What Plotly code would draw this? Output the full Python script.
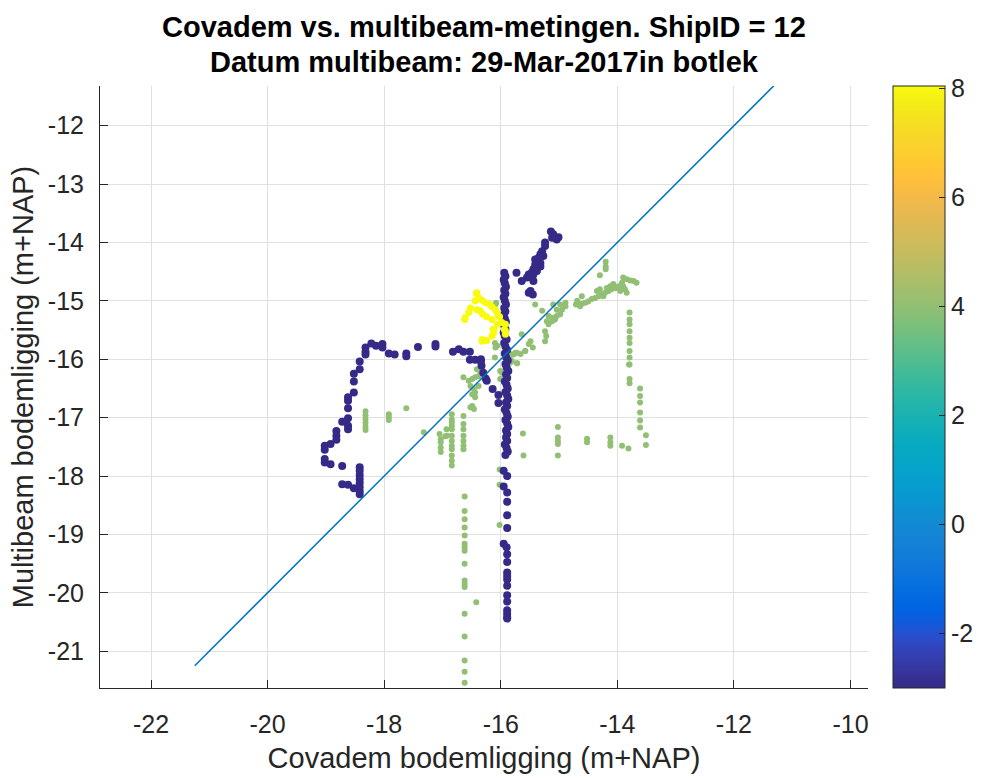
import plotly.graph_objects as go

# ---------------- data ----------------
# Points with colour value -3 (dark blue)
blue_x = [-18.32, -18.32, -18.32, -18.22, -18.14, -18.03, -18.03, -17.92, -17.82, -17.62, -17.62, -17.42, -17.12, -17.12,
          -18.42, -18.42, -18.52, -18.52, -18.52, -18.62, -18.62, -18.62, -18.62, -18.72, -18.62, -18.62, -18.82, -18.82,
          -18.82, -18.92, -19.02, -19.02, -19.02, -19.02, -18.92, -18.72,
          -18.42, -18.42, -18.42, -18.42, -18.42, -18.42, -18.42, -18.42, -18.72, -18.62, -18.52,
          -16.82, -16.72, -16.64, -16.53, -16.53, -16.44, -16.34, -16.34, -16.33, -16.30, -16.26, -16.24, -16.14, -16.04, -16.04,
          -15.94, -15.92, -15.95, -15.93, -15.91, -15.94, -15.92, -15.95, -15.93, -15.91, -15.94, -15.92, -15.95, -15.93,
          -15.91, -15.94, -15.92, -15.95, -15.93, -15.90, -15.94, -15.92, -15.89, -15.93, -15.91, -15.88, -15.92, -15.90,
          -15.87, -15.91, -15.89, -15.93, -15.90, -15.88, -15.92, -15.89, -15.87, -15.91, -15.89, -15.93, -15.90, -15.88,
          -15.92, -15.89, -15.87, -15.91, -15.89,
          -15.95, -15.89, -15.95, -15.89, -15.89, -15.89, -15.89, -15.95, -15.90, -15.89, -15.89, -15.89, -15.89, -15.89,
          -15.89, -15.89, -15.89, -15.89, -15.89, -15.89, -15.89,
          -15.14, -15.10, -15.01, -15.04, -15.12, -15.24, -15.24, -15.29, -15.32, -15.27, -15.35, -15.41, -15.32, -15.32,
          -15.41, -15.44, -15.47, -15.52, -15.44, -15.38, -15.55, -15.47, -15.44, -15.64, -15.73, -15.49, -15.52, -15.45,
          -15.91, -15.89, -15.93, -15.90, -15.88, -15.92]
blue_y = [-15.80, -15.87, -15.92, -15.73, -15.77, -15.74, -15.80, -15.90, -15.92, -15.90, -15.95, -15.79, -15.74, -15.78,
          -16.04, -16.17, -16.25, -16.38, -16.57, -16.65, -16.71, -16.84, -17.01, -17.07, -17.14, -17.20, -17.23, -17.31,
          -17.38, -17.45, -17.48, -17.55, -17.71, -17.77, -17.80, -17.83,
          -17.85, -17.91, -17.98, -18.05, -18.12, -18.19, -18.26, -18.31, -18.14, -18.15, -18.21,
          -15.87, -15.83, -15.87, -15.87, -16.01, -16.01, -16.00, -16.04, -16.11, -16.23, -16.33, -16.37, -16.51, -16.61, -16.75,
          -14.52, -14.58, -14.64, -14.70, -14.76, -14.82, -14.88, -14.94, -15.00, -15.06, -15.12, -15.18, -15.24, -15.30,
          -15.36, -15.42, -15.48, -15.54, -15.60, -15.66, -15.72, -15.78, -15.84, -15.90, -15.96, -16.02, -16.08, -16.14,
          -16.20, -16.26, -16.32, -16.38, -16.44, -16.50, -16.56, -16.62, -16.68, -16.74, -16.80, -16.86, -16.92, -16.98,
          -17.04, -17.10, -17.16, -17.22, -17.28,
          -17.91, -18.00, -18.18, -18.28, -18.44, -18.67, -18.89, -19.16, -19.22, -19.34, -19.47, -19.65, -19.71, -19.77,
          -19.88, -20.04, -20.15, -20.30, -20.36, -20.42, -20.44,
          -13.81, -13.86, -13.91, -13.95, -13.92, -14.00, -14.06, -14.15, -14.20, -14.23, -14.26, -14.29, -14.35, -14.41,
          -14.38, -14.46, -14.52, -14.55, -14.55, -14.49, -14.60, -14.60, -14.66, -14.66, -14.52, -14.83, -14.86, -14.89,
          -17.34, -17.40, -17.46, -17.52, -17.58, -17.64]
blue_val = [-3.0] * len(blue_x)

# Points with colour value 8 (yellow)
yellow_x = [-16.42, -16.41, -16.38, -16.44, -16.32, -16.26, -16.19, -16.15, -16.09, -16.06, -16.02, -15.98, -15.94,
            -15.92, -16.52, -16.55, -16.61, -16.62, -16.41, -16.35, -16.31, -16.24, -16.15, -16.12, -16.12, -16.15,
            -16.32, -16.24, -16.06, -16.32, -16.13, -15.92, -15.92]
yellow_y = [-14.87, -14.86, -14.95, -15.00, -14.99, -15.03, -15.06, -15.10, -15.15, -15.21, -15.27, -15.37, -15.49,
            -15.57, -15.12, -15.20, -15.29, -15.32, -15.15, -15.17, -15.23, -15.27, -15.32, -15.49, -15.54, -15.60,
            -15.66, -15.68, -15.40, -15.69, -15.49, -15.40, -15.51]
yellow_val = [8.05] * len(yellow_x)

# Points with colour value 4 (green)
green_x = [-18.32, -18.32, -18.32, -18.32, -18.32, -18.32, -17.92, -17.92, -17.92, -17.62, -17.32,
           -17.05, -17.03, -17.03, -17.03, -17.03, -16.95, -16.93, -16.92,
           -16.84, -16.84, -16.84, -16.84, -16.84, -16.84, -16.84, -16.84, -16.84, -16.84, -16.84, -16.84,
           -16.64, -16.64, -16.64, -16.64, -16.64, -16.64, -16.64,
           -16.64, -16.55, -16.49, -16.44, -16.38, -16.35, -16.41, -16.52, -16.46, -16.44, -16.49, -16.44, -16.38,
           -16.52, -16.49, -16.46,
           -16.01, -16.01, -15.98, -15.84, -15.75, -15.66, -15.81, -15.72, -15.58,
           -16.08, -16.09, -16.04, -16.06, -16.10, -16.10, -16.09, -16.09,
           -15.62, -15.61,
           -15.02, -15.02, -15.02, -15.02, -15.02, -14.52, -14.52, -14.12, -14.12, -14.12, -13.92, -13.81,
           -13.61, -13.61, -13.61, -13.61, -13.61, -13.61, -13.51, -13.51, -13.80, -13.79, -13.79,
           -16.62, -16.62, -16.62, -16.62, -16.62, -16.62, -16.62, -16.62, -16.62, -16.62, -16.62, -16.62,
           -16.62, -16.62, -16.62, -16.62, -16.62, -16.42, -16.02, -16.02, -16.02,
           -14.20, -14.20, -14.20, -14.30, -13.90, -13.84, -13.78, -13.72, -13.67, -13.92, -13.90, -13.87, -13.84,
           -13.98, -14.04, -14.10, -14.15, -14.21, -14.27, -14.32, -14.38, -14.44, -14.50, -14.55, -14.61, -14.67,
           -14.12, -14.07, -14.01, -13.95, -14.18, -14.35, -14.30, -14.24, -14.61, -14.69, -14.71, -14.64,
           -14.89, -14.89, -14.98, -14.95, -14.98, -15.04, -15.04, -15.07, -15.12, -15.12, -15.18,
           -15.10, -15.21, -15.18, -15.24, -15.22, -15.24, -15.29, -15.41,
           -15.49, -15.52, -15.45, -15.58, -15.64, -15.72, -15.78, -15.84, -15.84, -15.72,
           -13.79, -13.79, -13.79, -13.79, -13.79, -13.79, -13.79, -13.79, -13.79]
green_y = [-16.89, -16.96, -17.03, -17.09, -17.16, -17.21, -16.94, -16.99, -17.04, -16.84, -17.25,
           -17.28, -17.37, -17.42, -17.51, -17.59, -17.32, -17.20, -17.31,
           -16.94, -17.03, -17.08, -17.14, -17.20, -17.31, -17.40, -17.48, -17.54, -17.65, -17.74, -17.82,
           -16.97, -17.11, -17.20, -17.31, -17.40, -17.48, -17.54,
           -16.31, -16.37, -16.34, -16.31, -16.29, -16.23, -16.17, -16.46, -16.51, -16.57, -16.60, -16.65, -16.46,
           -16.82, -16.80, -16.85,
           -16.20, -16.34, -16.23, -15.91, -15.89, -15.91, -16.03, -16.07, -15.86,
           -15.03, -15.15, -15.26, -15.77, -15.72, -15.97, -15.06, -15.80,
           -17.27, -17.65,
           -17.16, -17.34, -17.40, -17.45, -17.65, -17.36, -17.42, -17.34, -17.42, -17.48, -17.48, -17.53,
           -16.50, -16.63, -16.74, -16.91, -17.05, -17.17, -17.30, -17.47, -16.09, -16.34, -16.41,
           -18.35, -18.60, -18.74, -18.88, -19.02, -19.16, -19.22, -19.28, -19.50, -19.79, -19.85, -19.90,
           -20.36, -20.75, -21.16, -21.35, -21.54, -20.16, -17.89, -18.15, -18.84,
           -14.33, -14.41, -14.46, -14.56, -14.60, -14.63, -14.65, -14.66, -14.69, -14.69, -14.75, -14.80, -14.86,
           -14.75, -14.78, -14.80, -14.83, -14.86, -14.89, -14.92, -14.95, -14.97, -15.01, -15.03, -15.05, -15.06,
           -14.75, -14.71, -14.78, -14.83, -14.78, -14.83, -14.80, -14.92, -14.92, -15.00, -15.06, -15.09,
           -15.03, -15.09, -15.06, -15.15, -15.23, -15.15, -15.26, -15.32, -15.35, -15.29, -15.26,
           -15.06, -15.35, -15.40, -15.52, -15.60, -15.69, -15.17, -15.06,
           -15.69, -15.74, -15.80, -15.86, -15.57, -15.89, -15.92, -15.94, -16.06, -16.07,
           -15.20, -15.32, -15.40, -15.52, -15.63, -15.72, -15.86, -15.97, -16.09]
green_val = [4.0] * len(green_x)

# 1:1 reference line end points
diag_ends = [-21.25, -11.0]

x_ticks = [-22, -20, -18, -16, -14, -12, -10]
y_ticks = [-21, -20, -19, -18, -17, -16, -15, -14, -13, -12]
cbar_ticks = [-2, 0, 2, 4, 6, 8]
c_range = [-3.0, 8.05]

title_lines = ["Covadem vs. multibeam-metingen. ShipID = 12",
               "Datum multibeam: 29-Mar-2017in botlek"]
x_title = "Covadem bodemligging (m+NAP)"
y_title = "Multibeam bodemligging (m+NAP)"

# ---------------- style ----------------
parula = [[0.2081, 0.1663, 0.5292], [0.2116, 0.1898, 0.5777], [0.2123, 0.2138, 0.6270], [0.2081, 0.2386, 0.6771],
          [0.1959, 0.2645, 0.7279], [0.1707, 0.2919, 0.7792], [0.1253, 0.3242, 0.8303], [0.0591, 0.3598, 0.8683],
          [0.0117, 0.3875, 0.8820], [0.0060, 0.4086, 0.8828], [0.0165, 0.4266, 0.8786], [0.0329, 0.4430, 0.8720],
          [0.0498, 0.4586, 0.8641], [0.0629, 0.4737, 0.8554], [0.0723, 0.4887, 0.8467], [0.0779, 0.5040, 0.8384],
          [0.0793, 0.5200, 0.8312], [0.0749, 0.5375, 0.8263], [0.0641, 0.5570, 0.8240], [0.0488, 0.5772, 0.8228],
          [0.0343, 0.5966, 0.8199], [0.0265, 0.6137, 0.8135], [0.0239, 0.6287, 0.8038], [0.0231, 0.6418, 0.7913],
          [0.0228, 0.6535, 0.7768], [0.0267, 0.6642, 0.7607], [0.0384, 0.6743, 0.7436], [0.0590, 0.6838, 0.7254],
          [0.0843, 0.6928, 0.7062], [0.1133, 0.7015, 0.6859], [0.1453, 0.7098, 0.6646], [0.1801, 0.7177, 0.6424],
          [0.2178, 0.7250, 0.6193], [0.2586, 0.7317, 0.5954], [0.3022, 0.7376, 0.5712], [0.3482, 0.7424, 0.5473],
          [0.3953, 0.7459, 0.5244], [0.4420, 0.7481, 0.5033], [0.4871, 0.7491, 0.4840], [0.5300, 0.7491, 0.4661],
          [0.5709, 0.7485, 0.4494], [0.6099, 0.7473, 0.4337], [0.6473, 0.7456, 0.4188], [0.6834, 0.7435, 0.4044],
          [0.7184, 0.7411, 0.3905], [0.7525, 0.7384, 0.3768], [0.7858, 0.7356, 0.3633], [0.8185, 0.7327, 0.3498],
          [0.8507, 0.7299, 0.3360], [0.8824, 0.7274, 0.3217], [0.9139, 0.7258, 0.3063], [0.9450, 0.7261, 0.2886],
          [0.9739, 0.7314, 0.2666], [0.9938, 0.7455, 0.2403], [0.9990, 0.7653, 0.2164], [0.9955, 0.7861, 0.1967],
          [0.9880, 0.8066, 0.1794], [0.9789, 0.8271, 0.1633], [0.9697, 0.8481, 0.1475], [0.9626, 0.8705, 0.1309],
          [0.9589, 0.8949, 0.1132], [0.9598, 0.9218, 0.0948], [0.9661, 0.9514, 0.0755], [0.9763, 0.9831, 0.0538]]
colorscale = [[i / (len(parula) - 1), "rgb(%d,%d,%d)" % (round(r * 255), round(g * 255), round(b * 255))]
              for i, (r, g, b) in enumerate(parula)]

FONT = "Liberation Sans, Arial, Helvetica, sans-serif"
AX = "#262626"
GRID = "#e0e0e0"

fig = go.Figure()
fig.add_trace(go.Scatter(x=green_x, y=green_y, mode="markers",
                         marker=dict(color=green_val, coloraxis="coloraxis", size=6, line=dict(width=0)),
                         hoverinfo="x+y"))
fig.add_trace(go.Scatter(x=blue_x, y=blue_y, mode="markers",
                         marker=dict(color=blue_val, coloraxis="coloraxis", size=8, line=dict(width=0)),
                         hoverinfo="x+y"))
fig.add_trace(go.Scatter(x=yellow_x, y=yellow_y, mode="markers",
                         marker=dict(color=yellow_val, coloraxis="coloraxis", size=7, line=dict(width=0)),
                         hoverinfo="x+y"))
fig.add_trace(go.Scatter(x=diag_ends, y=diag_ends, mode="lines",
                         line=dict(color="#0072BD", width=1.5), hoverinfo="skip"))

# title as two centred lines above the axes
title_y_paper = [1.098, 1.040]
for txt, yp in zip(title_lines, title_y_paper):
    fig.add_annotation(text="<b>%s</b>" % txt, x=0.5, xref="paper", xanchor="center",
                       y=yp, yref="paper", yanchor="middle", showarrow=False,
                       font=dict(family=FONT, size=29, color="black"))

fig.update_layout(
    width=989, height=778,
    margin=dict(l=100, r=121, t=86, b=90, autoexpand=False),
    paper_bgcolor="white", plot_bgcolor="white",
    font=dict(family=FONT, size=25, color=AX),
    showlegend=False,
    coloraxis=dict(
        colorscale=colorscale, cmin=c_range[0], cmax=c_range[1],
        colorbar=dict(x=1.0326, xanchor="left", xref="paper", y=0.5, yanchor="middle", yref="paper",
                      len=1, lenmode="fraction", thickness=52, thicknessmode="pixels",
                      xpad=0, ypad=0, outlinecolor=AX, outlinewidth=1,
                      tickvals=cbar_ticks, ticktext=[str(v) for v in cbar_ticks],
                      ticks="inside", ticklen=6, tickcolor=AX,
                      tickfont=dict(family=FONT, size=25, color=AX)),
    ),
    xaxis=dict(range=[-22.875, -9.70], tickvals=x_ticks, ticktext=[str(v) for v in x_ticks],
               ticks="inside", ticklen=8, tickcolor=AX,
               showline=True, linecolor=AX, linewidth=1, mirror=False,
               showgrid=True, gridcolor=GRID, gridwidth=1, zeroline=False,
               ticklabelstandoff=14,
               tickfont=dict(family=FONT, size=25, color=AX),
               title=dict(text=x_title, standoff=10, font=dict(family=FONT, size=29, color=AX))),
    yaxis=dict(range=[-21.63, -11.32], tickvals=y_ticks, ticktext=[str(v) for v in y_ticks],
               ticks="inside", ticklen=8, tickcolor=AX,
               showline=True, linecolor=AX, linewidth=1, mirror=False,
               showgrid=True, gridcolor=GRID, gridwidth=1, zeroline=False,
               ticklabelstandoff=10,
               tickfont=dict(family=FONT, size=25, color=AX),
               title=dict(text=y_title, standoff=5, font=dict(family=FONT, size=29, color=AX))),
)

fig.write_html("out.html")
